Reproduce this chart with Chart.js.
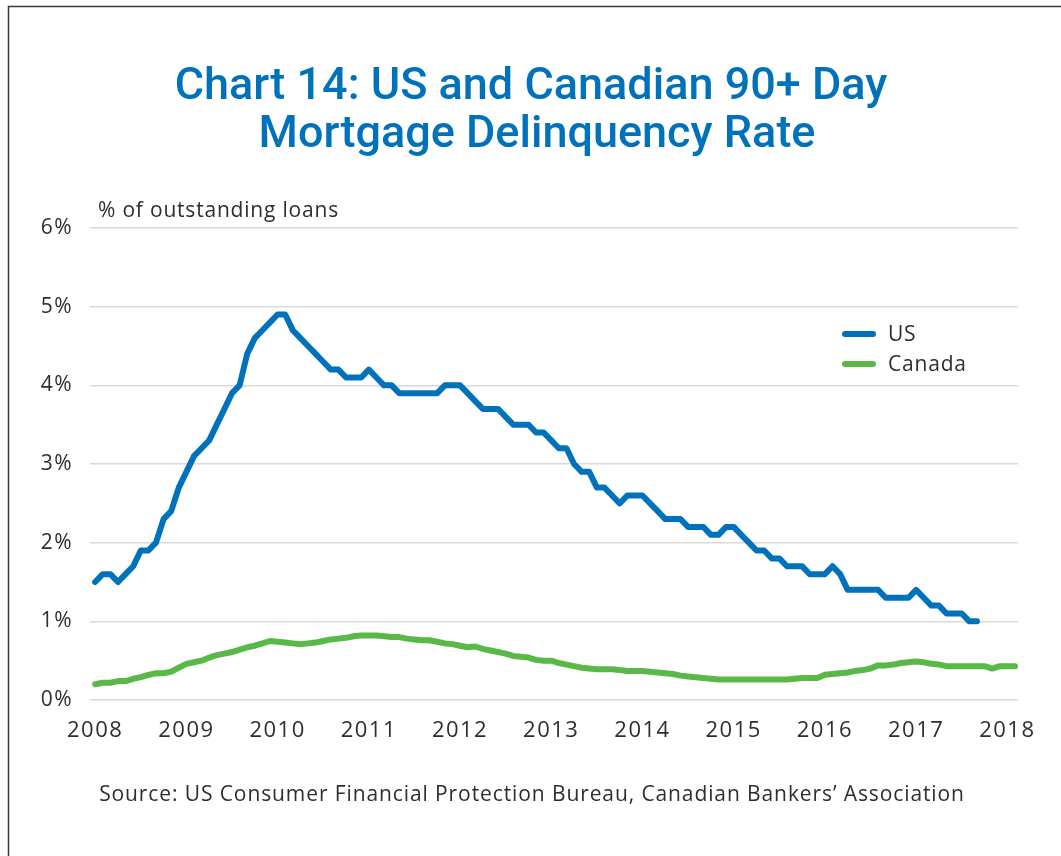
<!DOCTYPE html>
<html lang="en">
<head>
<meta charset="UTF-8">
<title>Chart 14: US and Canadian 90+ Day Mortgage Delinquency Rate</title>
<script src="https://cdn.jsdelivr.net/npm/chart.js"></script>
<style>
    html, body { margin: 0; padding: 0; background: #fff; }
    #wrap { width: 1061px; height: 856px; }
</style>
</head>
<body>
<div id="wrap"><canvas id="chart" width="1061" height="856"></canvas></div>
<script>
// monthly observations, index 0 = Jan 2008
const yearLabels = ['2008', '2009', '2010', '2011', '2012', '2013', '2014', '2015', '2016', '2017', '2018'];
const yTicks = [0, 1, 2, 3, 4, 5, 6];

const usRate = [
    1.5, 1.6, 1.6, 1.5, 1.6, 1.7, 1.9, 1.9, 2.0, 2.3,
    2.4, 2.7, 2.9, 3.1, 3.2, 3.3, 3.5, 3.7, 3.9, 4.0,
    4.4, 4.6, 4.7, 4.8, 4.9, 4.9, 4.7, 4.6, 4.5, 4.4,
    4.3, 4.2, 4.2, 4.1, 4.1, 4.1, 4.2, 4.1, 4.0, 4.0,
    3.9, 3.9, 3.9, 3.9, 3.9, 3.9, 4.0, 4.0, 4.0, 3.9,
    3.8, 3.7, 3.7, 3.7, 3.6, 3.5, 3.5, 3.5, 3.4, 3.4,
    3.3, 3.2, 3.2, 3.0, 2.9, 2.9, 2.7, 2.7, 2.6, 2.5,
    2.6, 2.6, 2.6, 2.5, 2.4, 2.3, 2.3, 2.3, 2.2, 2.2,
    2.2, 2.1, 2.1, 2.2, 2.2, 2.1, 2.0, 1.9, 1.9, 1.8,
    1.8, 1.7, 1.7, 1.7, 1.6, 1.6, 1.6, 1.7, 1.6, 1.4,
    1.4, 1.4, 1.4, 1.4, 1.3, 1.3, 1.3, 1.3, 1.4, 1.3,
    1.2, 1.2, 1.1, 1.1, 1.1, 1.0, 1.0
];

const canadaRate = [
    0.20, 0.22, 0.22, 0.24, 0.24, 0.27, 0.29, 0.32, 0.34, 0.34,
    0.36, 0.41, 0.46, 0.48, 0.50, 0.54, 0.57, 0.59, 0.61, 0.64,
    0.67, 0.69, 0.72, 0.75, 0.74, 0.73, 0.72, 0.71, 0.72, 0.73,
    0.75, 0.77, 0.78, 0.79, 0.81, 0.82, 0.82, 0.82, 0.81, 0.80,
    0.80, 0.78, 0.77, 0.76, 0.76, 0.74, 0.72, 0.71, 0.69, 0.67,
    0.68, 0.65, 0.63, 0.61, 0.59, 0.56, 0.55, 0.54, 0.51, 0.50,
    0.50, 0.47, 0.45, 0.43, 0.41, 0.40, 0.39, 0.39, 0.39, 0.38,
    0.37, 0.37, 0.37, 0.36, 0.35, 0.34, 0.33, 0.31, 0.30, 0.29,
    0.28, 0.27, 0.26, 0.26, 0.26, 0.26, 0.26, 0.26, 0.26, 0.26,
    0.26, 0.26, 0.27, 0.28, 0.28, 0.28, 0.32, 0.33, 0.34, 0.35,
    0.37, 0.38, 0.40, 0.44, 0.44, 0.45, 0.47, 0.48, 0.49, 0.48,
    0.46, 0.45, 0.43, 0.43, 0.43, 0.43, 0.43, 0.43, 0.40, 0.43,
    0.43, 0.43
];

const US_BLUE = '#0072bc';
const CA_GREEN = '#58b947';
const TEXT = '#2e2e2e';
const FONT = '"Open Sans", "Noto Sans", sans-serif';

const toPoints = arr => arr.map((v, i) => ({ x: i, y: v }));

// the original uses a wide geometric face; widen the axis labels a little
const axisSpacing = {
    id: 'axisSpacing',
    beforeDraw(chart) { chart.ctx.letterSpacing = '1.5px'; },
    beforeDatasetsDraw(chart) { chart.ctx.letterSpacing = '0px'; }
};

// title, unit label, legend, source note and frame
const decorations = {
    id: 'decorations',
    afterDraw(chart) {
        const ctx = chart.ctx;
        const area = chart.chartArea;
        ctx.save();

        // frame (top + left edge of the panel)
        ctx.strokeStyle = '#3a3a3a';
        ctx.lineWidth = 1.5;
        ctx.beginPath();
        ctx.moveTo(1061, 6.5);
        ctx.lineTo(8.5, 6.5);
        ctx.lineTo(8.5, 856);
        ctx.stroke();

        // title
        ctx.fillStyle = US_BLUE;
        ctx.textAlign = 'center';
        ctx.textBaseline = 'alphabetic';
        ctx.letterSpacing = '0px';
        ctx.font = '500 45px Roboto, "Open Sans", sans-serif';
        ctx.fillText('Chart 14: US and Canadian 90+ Day', 531, 99);
        ctx.fillText('Mortgage Delinquency Rate', 537, 147);

        // unit label
        ctx.fillStyle = TEXT;
        ctx.textAlign = 'left';
        ctx.textBaseline = 'middle';
        ctx.letterSpacing = '0.8px';
        ctx.font = '21px ' + FONT;
        ctx.fillText('% of outstanding loans', area.left + 8, 211);

        // legend
        const items = [
            { label: 'US', color: US_BLUE, y: 334 },
            { label: 'Canada', color: CA_GREEN, y: 364 }
        ];
        items.forEach(it => {
            ctx.strokeStyle = it.color;
            ctx.lineWidth = 6;
            ctx.lineCap = 'round';
            ctx.beginPath();
            ctx.moveTo(845, it.y);
            ctx.lineTo(873, it.y);
            ctx.stroke();
            ctx.fillStyle = TEXT;
            ctx.fillText(it.label, 888, it.y + 1);
        });

        // source
        ctx.textAlign = 'center';
        ctx.textBaseline = 'alphabetic';
        ctx.letterSpacing = '0.9px';
        ctx.font = '21px ' + FONT;
        ctx.fillText('Source: US Consumer Financial Protection Bureau, Canadian Bankers\u2019 Association', 532, 801);

        ctx.restore();
    }
};

new Chart(document.getElementById('chart'), {
    type: 'line',
    data: {
        datasets: [
            {
                label: 'US',
                data: toPoints(usRate),
                borderColor: US_BLUE,
                borderWidth: 6,
                pointRadius: 0,
                tension: 0,
                borderCapStyle: 'round',
                borderJoinStyle: 'round'
            },
            {
                label: 'Canada',
                data: toPoints(canadaRate),
                borderColor: CA_GREEN,
                borderWidth: 6,
                pointRadius: 0,
                tension: 0,
                borderCapStyle: 'round',
                borderJoinStyle: 'round'
            }
        ]
    },
    options: {
        responsive: false,
        animation: false,
        devicePixelRatio: 1,
        layout: { padding: { left: 0, right: 43, top: 228, bottom: 116 } },
        plugins: {
            legend: { display: false },
            title: { display: false },
            tooltip: { enabled: false }
        },
        scales: {
            x: {
                type: 'linear',
                min: -0.68,
                max: 121.4,
                afterBuildTicks: scale => {
                    scale.ticks = yearLabels.map((l, i) => ({ value: i * 12 }));
                },
                afterFit: scale => { scale.height = 40; },
                ticks: {
                    autoSkip: false,
                    maxRotation: 0,
                    padding: 10,
                    color: TEXT,
                    font: { family: FONT, size: 22 },
                    callback: (v, i) => yearLabels[i]
                },
                grid: { display: false },
                border: { display: false }
            },
            y: {
                min: 0,
                max: 6,
                afterBuildTicks: scale => {
                    scale.ticks = yTicks.map(v => ({ value: v }));
                },
                afterFit: scale => { scale.width = 90; },
                ticks: {
                    padding: 17,
                    color: TEXT,
                    font: { family: FONT, size: 21 },
                    callback: v => v + '%'
                },
                grid: { color: '#d9d9d9', lineWidth: 1.5, drawTicks: false },
                border: { display: false }
            }
        }
    },
    plugins: [axisSpacing, decorations]
});
</script>
</body>
</html>
